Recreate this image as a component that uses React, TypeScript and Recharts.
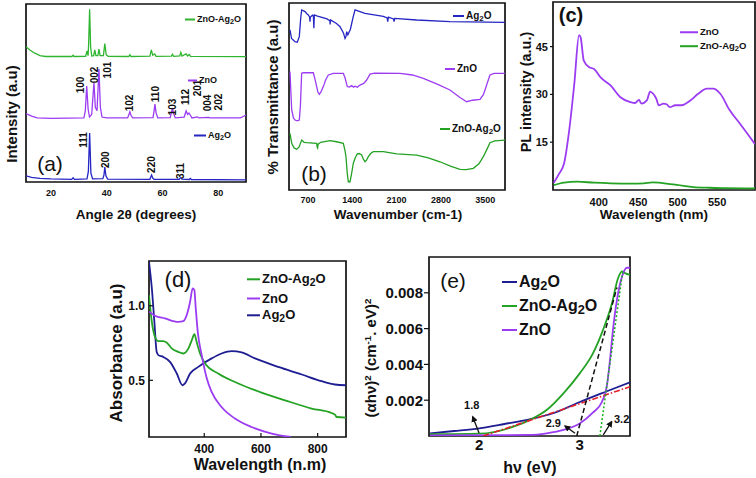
import React from "react";
import {
  LineChart,
  Line,
  XAxis,
  YAxis,
  ReferenceArea,
  ReferenceDot,
  ReferenceLine,
} from "recharts";

const FONT = "'Liberation Sans', Arial, Helvetica, sans-serif";
const INK = "#111";

// ---------- (a) XRD ----------
const xrdDomain = [11, 90];
const xrdTicks = [20, 40, 60, 80];
const xrdAg2O = [
  [11, 3.4], [13, 2.6], [16, 2.0], [20, 1.7], [27.4, 1.5], [27.9, 2.4], [28.4, 1.5],
  [32.9, 1.7], [33.4, 6], [33.85, 27.5], [34.3, 5], [34.9, 1.8], [38.6, 1.9], [39.0, 4],
  [39.3, 8.4], [39.7, 3.5], [40.3, 1.6], [55.5, 1.5], [55.8, 2.8], [56.1, 3.9], [56.5, 2.2],
  [57, 1.5], [66, 1.5], [66.3, 2.1], [66.6, 2.4], [67, 1.6], [69.6, 1.4], [70, 2.0],
  [70.4, 1.4], [90, 1.2],
];
const xrdZnO = [
  [11, 38.5], [13, 37], [15, 36], [20, 35.8], [31.8, 36], [32.3, 40], [32.8, 53.9], [33.3, 41],
  [33.8, 36.5], [34.6, 38], [35.4, 55.8], [35.9, 42], [36.5, 40], [37.2, 63.5], [37.7, 42],
  [38.3, 36.5], [40, 36], [47.5, 36], [48, 38], [48.3, 39.5], [48.7, 37.5], [49.3, 36],
  [56.6, 36.2], [57, 40], [57.3, 43.8], [57.7, 39], [58.3, 36], [62.8, 36.2], [63.2, 39],
  [63.6, 41.4], [64, 38.5], [64.6, 36], [67.8, 36.5], [68.2, 38.5], [68.5, 39.9], [69, 38],
  [69.5, 38.8], [70, 37.5], [70.6, 36], [72.6, 36.6], [73, 36], [76.5, 36.3], [77, 36],
  [88, 36], [89, 36.8], [90, 37.6],
];
const xrdMix = [
  [11, 76], [12.5, 74], [14, 72.5], [16, 71], [18, 70.5], [27.5, 70.5], [27.9, 71.2],
  [28.3, 70.5], [32.4, 70.6], [32.9, 73.6], [33.3, 71], [33.5, 78], [33.85, 97], [34.2, 76],
  [34.6, 70.8], [35.3, 71], [35.7, 74.2], [36.1, 71], [36.8, 71], [37.2, 74.7], [37.6, 71],
  [38.8, 71], [39.3, 77.7], [39.8, 71.5], [40.5, 70.6], [47.9, 70.5], [48.3, 71.5],
  [48.7, 70.5], [55.5, 70.7], [56, 74.2], [56.5, 71.2], [57.2, 72], [57.7, 70.6], [63.2, 70.7],
  [63.6, 71.7], [64, 70.6], [66.2, 70.8], [66.6, 72.8], [67, 70.8], [68.5, 72], [69, 70.8],
  [69.6, 71.6], [70.1, 70.6], [90, 70.4],
];
const xrdPeakNames = ["100", "002", "101", "102", "110", "103", "112", "201", "004", "202", "111", "200", "220", "311"];
const xrdPeakAngles = [30.5, 35.5, 40.2, 48.2, 57.6, 63.7, 68.4, 72.7, 76.3, 80, 31.6, 39.5, 56.1, 66.6];
const xrdPeakHeights = [54.5, 60.1, 62.9, 44.4, 49.4, 42.1, 47.8, 52.8, 44.4, 44.9, 23.6, 12.5, 9.8, 6.2];

// ---------- (b) FTIR ----------
const ftirDomain = [400, 3812];
const ftirTicks = [700, 1400, 2100, 2800, 3500];
const ftirAg2O = [
  [416, 85.6], [440, 81], [495, 79.3], [531, 79], [563, 82], [585, 92], [600, 96.3], [653, 95.4],
  [690, 94], [705, 93.6], [725, 92.5], [732, 90], [738, 92.5], [770, 93.5], [785, 93], [793, 86.5],
  [800, 93.6], [850, 93], [1000, 91.5], [1045, 90.5], [1050, 88.5], [1055, 91], [1150, 89],
  [1206, 87.3], [1260, 84], [1285, 81], [1300, 82], [1311, 84.7], [1330, 83], [1370, 86],
  [1410, 92], [1443, 96.3], [1522, 95.4], [1600, 94.5], [1890, 92.8], [1950, 92], [1960, 90],
  [1970, 92.5], [2050, 91.5], [2060, 90], [2070, 91.8], [2417, 90.9], [2943, 90], [3812, 89.6],
];
const ftirZnO = [
  [416, 63.3], [430, 52], [443, 42.8], [470, 38.5], [495, 37.4], [530, 37], [563, 37.4], [580, 45],
  [600, 62.4], [626, 62.7], [700, 62.8], [784, 62.7], [805, 60], [826, 57], [855, 52.5],
  [879, 51.2], [905, 52.5], [942, 55.3], [980, 59], [1021, 61.5], [1100, 62.4], [1258, 62.4],
  [1285, 60], [1321, 55.3], [1355, 55], [1390, 55.8], [1420, 55], [1443, 55.5], [1480, 55],
  [1522, 56.1], [1580, 57], [1627, 58.8], [1680, 62], [1750, 62.5], [2153, 62.4], [2350, 61.5],
  [2522, 59.7], [2750, 56.5], [2943, 53.5], [3100, 49.5], [3207, 47.2], [3300, 48], [3417, 48.5],
  [3470, 51], [3496, 53.5], [3540, 58], [3575, 61.5], [3640, 62.4], [3812, 62.4],
];
const ftirMix = [
  [416, 30.3], [443, 25], [480, 22.5], [522, 21.8], [560, 23], [600, 26.7], [640, 25.5],
  [680, 25.3], [837, 25], [845, 23], [852, 22.5], [860, 24.5], [900, 25.5], [1048, 26.4],
  [1150, 25.8], [1258, 25], [1285, 21], [1300, 17.8], [1320, 9], [1337, 4.4], [1364, 4.4],
  [1390, 9], [1416, 14.3], [1450, 17.5], [1479, 19.3], [1510, 19.5], [1548, 18.7], [1575, 16.5],
  [1601, 15.1], [1625, 16], [1653, 17.8], [1690, 19.5], [1732, 20.5], [1890, 20.5], [2101, 19.3],
  [2417, 18.7], [2600, 17.2], [2785, 15.1], [2950, 12.8], [3101, 11], [3200, 10.9], [3312, 11.6],
  [3400, 14], [3470, 17.8], [3530, 22], [3575, 25.3], [3650, 26.3], [3812, 26.7],
];

// ---------- (c) PL ----------
const plXDomain = [342, 598];
const plYDomain = [0, 59];
const plXTicks = [400, 450, 500, 550];
const plYTicks = [15, 30, 45];
const plZnO = [
  [343, 2.3], [350, 5.2], [356, 8.3], [362, 17.7], [369, 33.3], [375, 48.6], [377, 47.9],
  [381, 40.6], [388, 38.5], [394, 38], [402, 35.4], [415, 32.8], [427, 29.2], [440, 27.6],
  [446, 27.3], [451, 28.3], [454, 27.1], [461, 28.1], [465, 30.9], [469, 30.2], [473, 28.6],
  [476, 26.6], [482, 27.1], [486, 26.9], [490, 26], [497, 26.6], [505, 26.6], [516, 28.1],
  [526, 30.2], [537, 31.8], [545, 31.8], [554, 30.2], [566, 25], [579, 20.8], [598, 14.4],
];
const plMix = [
  [343, 1.5], [356, 2.3], [373, 2.6], [394, 2.3], [415, 2.1], [440, 2], [457, 2.1], [468, 2.4],
  [476, 2.3], [488, 1.9], [499, 1.6], [520, 0.9], [540, 0.7], [562, 0.6], [598, 0.5],
];

// ---------- (d) UV-vis ----------
const uvXDomain = [205, 900];
const uvYDomain = [0.12, 1.3];
const uvXTicks = [400, 600, 800];
const uvYTicks = [0.5, 1.0];
const uvZnO = [
  [205, 0.96], [226, 0.933], [261, 0.915], [308, 0.892], [326, 0.897], [338, 0.937], [350, 1.027],
  [359, 1.117], [365, 1.105], [370, 0.982], [377, 0.825], [391, 0.669], [409, 0.512],
  [426, 0.422], [461, 0.321], [508, 0.244], [567, 0.187], [638, 0.143], [705, 0.12],
];
const uvMix = [
  [205, 1.072], [215, 0.892], [226, 0.792], [238, 0.763], [255, 0.763], [267, 0.754], [285, 0.714],
  [308, 0.691], [326, 0.68], [344, 0.714], [356, 0.769], [365, 0.81], [373, 0.758], [385, 0.68],
  [403, 0.613], [449, 0.546], [520, 0.479], [602, 0.418], [685, 0.366], [779, 0.311],
  [849, 0.281], [861, 0.27], [867, 0.254], [900, 0.25],
];
const uvAg2O = [
  [205, 1.295], [215, 1.117], [224, 0.892], [232, 0.691], [238, 0.669], [255, 0.657], [279, 0.624],
  [303, 0.546], [323, 0.467], [332, 0.479], [350, 0.546], [379, 0.59], [426, 0.647], [461, 0.68],
  [497, 0.696], [532, 0.687], [579, 0.647], [661, 0.59], [744, 0.539], [814, 0.494],
  [861, 0.472], [900, 0.467],
];

// ---------- (e) Tauc ----------
const taucXDomain = [1.5, 3.5];
const taucYDomain = [0, 0.01];
const taucXTicks = [2, 3];
const taucYTicks = [0.002, 0.004, 0.006, 0.008];
const taucAg2O = [
  [1.51, 0.00015], [1.75, 0.00028], [2.0, 0.00043], [2.25, 0.00067], [2.5, 0.00093],
  [2.75, 0.0013], [3.0, 0.0019], [3.27, 0.0025], [3.5, 0.003],
];
const taucMix = [
  [1.51, 0.0001], [2.0, 0.00013], [2.34, 0.00052], [2.5, 0.00089], [2.67, 0.00145], [2.84, 0.0024],
  [3.0, 0.0035], [3.13, 0.0046], [3.23, 0.0059], [3.32, 0.0074], [3.38, 0.0088], [3.42, 0.0092],
  [3.45, 0.0091], [3.5, 0.009],
];
const taucZnO = [
  [1.51, 0.00003], [2.5, 0.00006], [2.67, 0.00015], [2.84, 0.00034], [3.0, 0.0007], [3.13, 0.0013],
  [3.22, 0.0019], [3.27, 0.0028], [3.3, 0.0042], [3.33, 0.0059], [3.37, 0.0076], [3.42, 0.0089],
  [3.47, 0.0094], [3.5, 0.0094],
];
const fitAg2O = [[2.04, 0], [3.5, 0.00275]];
const fitMix = [[2.97, 0], [3.37, 0.0083]];
const fitZnO = [[3.2, 0], [3.43, 0.0093]];
const gapNames = ["1.8", "2.9", "3.2"];
const gapLabelAt = [[1.925, 0.00173], [2.737, 0.00071], [3.417, 0.00095]];
const gapArrowFrom = [[1.998, 0.00017], [2.953, 0.00015], [3.234, 0.00006]];
const gapArrowTo = [[1.935, 0.00108], [2.853, 0.00056], [3.318, 0.0008]];

// ---------- layout ----------
const BOX_A = { l: 26, t: 4, r: 246, b: 182 };
const BOX_B = { l: 289, t: 3, r: 505, b: 190 };
const BOX_C = { l: 553, t: 2, r: 755, b: 190 };
const BOX_D = { l: 149, t: 261, r: 346, b: 437 };
const BOX_E = { l: 429, t: 257, r: 630, b: 436 };
const YW = 50;
const XH = 30;
const PAD = 2;

const BLUE = "#2626c4";
const NAVY = "#1e1e92";
const PURPLE = "#9c3cf2";
const GREEN = "#24a224";

type Box = { l: number; t: number; r: number; b: number };

const pts = (a: number[][]) => a.map(([x, y]) => ({ x, y }));

function frame(box: Box) {
  return {
    style: { position: "absolute" as const, left: box.l - YW, top: box.t - PAD },
    width: box.r - box.l + YW + PAD,
    height: box.b - box.t + PAD + XH,
    margin: { top: PAD, right: PAD, bottom: 0, left: 0 },
  };
}

const tick = (size: number) => ({ fontSize: size, fontWeight: 700, fill: INK, fontFamily: FONT });

function border(xd: number[], yd: number[]) {
  return (
    <ReferenceArea
      x1={xd[0]}
      x2={xd[1]}
      y1={yd[0]}
      y2={yd[1]}
      fill="none"
      fillOpacity={0}
      stroke={INK}
      strokeWidth={1.7}
      ifOverflow="visible"
    />
  );
}

function series(data: number[][], color: string, width: number, key: string, smooth = false, dash?: string) {
  return (
    <Line
      key={key}
      data={pts(data)}
      dataKey="y"
      type={smooth ? "monotone" : "linear"}
      stroke={color}
      strokeWidth={width}
      strokeDasharray={dash}
      dot={false}
      activeDot={false}
      isAnimationActive={false}
    />
  );
}

function Txt({ x, y, size, rot, bold = true, children }: any) {
  return (
    <div
      style={{
        position: "absolute",
        left: x,
        top: y,
        transform: `translate(-50%, -50%)${rot ? ` rotate(${rot}deg)` : ""}`,
        fontSize: size,
        fontWeight: bold ? 700 : 400,
        whiteSpace: "nowrap",
        lineHeight: 1,
        fontFamily: FONT,
        color: INK,
      }}
    >
      {children}
    </div>
  );
}

function Key({ x, y, w, color, size, lw = 2, gap = 2, children }: any) {
  return (
    <div
      style={{
        position: "absolute",
        left: x,
        top: y,
        transform: "translateY(-50%)",
        display: "flex",
        alignItems: "center",
        fontSize: size,
        fontWeight: 700,
        fontFamily: FONT,
        whiteSpace: "nowrap",
        lineHeight: 1,
        color: INK,
      }}
    >
      <span style={{ display: "inline-block", width: w, height: lw, background: color, marginRight: gap }} />
      <span>{children}</span>
    </div>
  );
}

const Sub = ({ children }: any) => (
  <span style={{ fontSize: "0.8em", position: "relative", top: "0.25em" }}>{children}</span>
);
const Sup = ({ children }: any) => (
  <span style={{ fontSize: "0.65em", position: "relative", top: "-0.55em" }}>{children}</span>
);
const AG2O = (
  <>
    Ag<Sub>2</Sub>O
  </>
);
const MIX = (
  <>
    ZnO-Ag<Sub>2</Sub>O
  </>
);

function PanelA() {
  const f = frame(BOX_A);
  return (
    <div style={f.style}>
      <LineChart width={f.width} height={f.height} margin={f.margin}>
        <XAxis type="number" dataKey="x" domain={xrdDomain} ticks={xrdTicks} interval={0} allowDataOverflow
          height={XH} axisLine={false} tickLine={false} tickSize={0} tickMargin={8} tick={tick(9)} />
        <YAxis type="number" domain={[0, 100]} width={YW} axisLine={false} tickLine={false} tick={false} allowDataOverflow />
        {series(xrdAg2O, BLUE, 1.3, "ag")}
        {series(xrdZnO, PURPLE, 1.3, "zn")}
        {series(xrdMix, "#2fb52f", 1.3, "mix")}
        {xrdPeakNames.map((n, i) => (
          <ReferenceDot
            key={n + i}
            x={xrdPeakAngles[i]}
            y={xrdPeakHeights[i]}
            r={1}
            fill="none"
            stroke="none"
            ifOverflow="visible"
            label={{ value: n, angle: -90, position: "center", fontSize: 10, fontWeight: 700, fill: INK, fontFamily: FONT }}
          />
        ))}
        {border(xrdDomain, [0, 100])}
      </LineChart>
    </div>
  );
}

function PanelB() {
  const f = frame(BOX_B);
  return (
    <div style={f.style}>
      <LineChart width={f.width} height={f.height} margin={f.margin}>
        <XAxis type="number" dataKey="x" domain={ftirDomain} ticks={ftirTicks} interval={0} allowDataOverflow
          height={XH} axisLine={false} tickLine={false} tickSize={0} tickMargin={7} tick={tick(9)} />
        <YAxis type="number" domain={[0, 100]} width={YW} axisLine={false} tickLine={false} tick={false} allowDataOverflow />
        {series(ftirAg2O, BLUE, 1.3, "ag")}
        {series(ftirZnO, PURPLE, 1.3, "zn")}
        {series(ftirMix, GREEN, 1.3, "mix")}
        {border(ftirDomain, [0, 100])}
      </LineChart>
    </div>
  );
}

function PanelC() {
  const f = frame(BOX_C);
  return (
    <div style={f.style}>
      <LineChart width={f.width} height={f.height} margin={f.margin}>
        <XAxis type="number" dataKey="x" domain={plXDomain} ticks={plXTicks} interval={0} allowDataOverflow
          height={XH} axisLine={false} tickLine={false} tickSize={0} tickMargin={8} tick={tick(11)} />
        <YAxis type="number" domain={plYDomain} ticks={plYTicks} interval={0} width={YW} axisLine={false}
          tickLine={{ stroke: INK, strokeWidth: 1.2 }} tickSize={3} tickMargin={2} tick={tick(11)} allowDataOverflow />
        {series(plMix, GREEN, 1.8, "mix", true)}
        {series(plZnO, PURPLE, 1.8, "zn", true)}
        {border(plXDomain, plYDomain)}
      </LineChart>
    </div>
  );
}

function PanelD() {
  const f = frame(BOX_D);
  return (
    <div style={f.style}>
      <LineChart width={f.width} height={f.height} margin={f.margin}>
        <XAxis type="number" dataKey="x" domain={uvXDomain} ticks={uvXTicks} interval={0} allowDataOverflow
          height={XH} axisLine={false} tickLine={{ stroke: INK, strokeWidth: 1.2 }} tickSize={-4} tickMargin={11} tick={tick(12)} />
        <YAxis type="number" domain={uvYDomain} ticks={uvYTicks} interval={0} width={YW} axisLine={false}
          tickLine={{ stroke: INK, strokeWidth: 1.2 }} tickSize={-4} tickMargin={8} tick={tick(12)}
          tickFormatter={(v: number) => v.toFixed(1)} allowDataOverflow />
        {series(uvAg2O, NAVY, 1.8, "ag", true)}
        {series(uvMix, GREEN, 1.8, "mix", true)}
        {series(uvZnO, PURPLE, 1.8, "zn", true)}
        {border(uvXDomain, uvYDomain)}
      </LineChart>
    </div>
  );
}

function PanelE() {
  const f = frame(BOX_E);
  return (
    <div style={f.style}>
      <LineChart width={f.width} height={f.height} margin={f.margin}>
        <XAxis type="number" dataKey="x" domain={taucXDomain} ticks={taucXTicks} interval={0} allowDataOverflow
          height={XH} axisLine={false} tickLine={false} tickSize={0} tickMargin={3} tick={tick(15)} />
        <YAxis type="number" domain={taucYDomain} ticks={taucYTicks} interval={0} width={YW} axisLine={false}
          tickLine={{ stroke: INK, strokeWidth: 1.2 }} tickSize={5} tickMargin={1} tick={tick(15)}
          tickFormatter={(v: number) => v.toFixed(3)} allowDataOverflow />
        {series(taucAg2O, NAVY, 1.8, "ag", true)}
        {series(taucMix, GREEN, 1.8, "mix", true)}
        {series(taucZnO, PURPLE, 1.8, "zn", true)}
        {series(fitAg2O, "#e3202a", 1.6, "fa", false, "6 2 1.5 2")}
        {series(fitMix, "#111", 1.5, "fm", false, "5 3")}
        {series(fitZnO, "#16b016", 1.5, "fz", false, "2 2")}
        {gapNames.map((n, i) => (
          <ReferenceLine
            key={"arr" + n}
            segment={[
              { x: gapArrowFrom[i][0], y: gapArrowFrom[i][1] },
              { x: gapArrowTo[i][0], y: gapArrowTo[i][1] },
            ]}
            stroke={INK}
            strokeWidth={1.3}
            markerEnd="url(#arrowHead)"
            ifOverflow="visible"
          />
        ))}
        {gapNames.map((n, i) => (
          <ReferenceDot
            key={"lab" + n}
            x={gapLabelAt[i][0]}
            y={gapLabelAt[i][1]}
            r={1}
            fill="none"
            stroke="none"
            ifOverflow="visible"
            label={{ value: n, position: "center", fontSize: 11, fontWeight: 700, fill: INK, fontFamily: FONT }}
          />
        ))}
        {border(taucXDomain, taucYDomain)}
      </LineChart>
    </div>
  );
}

export default function App() {
  return (
    <div
      style={{
        position: "absolute",
        left: 0,
        top: 0,
        width: 756,
        height: 478,
        overflow: "hidden",
        background: "#fff",
        fontFamily: FONT,
        color: INK,
      }}
    >
      <svg width={0} height={0} style={{ position: "absolute" }}>
        <defs>
          <marker id="arrowHead" viewBox="0 0 10 10" refX="8" refY="5" markerWidth="5" markerHeight="5" orient="auto">
            <path d="M0,0 L10,5 L0,10 z" fill={INK} />
          </marker>
        </defs>
      </svg>

      <PanelA />
      <PanelB />
      <PanelC />
      <PanelD />
      <PanelE />

      {/* (a) */}
      <Txt x={11} y={114} size={15} rot={-90}>Intensity (a.u)</Txt>
      <Txt x={136} y={215} size={13.5}>Angle 2θ (degrees)</Txt>
      <Txt x={50} y={163} size={21} bold={false}>(a)</Txt>
      <Key x={185} y={19} w={10} color="#2fb52f" size={9}>{MIX}</Key>
      <Key x={188} y={80} w={9} color={PURPLE} size={9}>ZnO</Key>
      <Key x={194} y={135} w={12} color={BLUE} size={9}>{AG2O}</Key>

      {/* (b) */}
      <Txt x={272} y={97} size={15} rot={-90}>% Transmittance (a.u)</Txt>
      <Txt x={398} y={215} size={13.5}>Wavenumber (cm-1)</Txt>
      <Txt x={314} y={173} size={21} bold={false}>(b)</Txt>
      <Key x={453} y={16} w={11} color={BLUE} size={10}>{AG2O}</Key>
      <Key x={445} y={69} w={10} color={PURPLE} size={10}>ZnO</Key>
      <Key x={440} y={129} w={10} color={GREEN} size={10}>{MIX}</Key>

      {/* (c) */}
      <Txt x={526} y={92} size={14.5} rot={-90}>PL intensity (a.u.)</Txt>
      <Txt x={654} y={215} size={13.5}>Wavelength (nm)</Txt>
      <Txt x={571} y={15} size={20}>(c)</Txt>
      <Key x={680} y={32} w={18} color={PURPLE} size={9.5}>ZnO</Key>
      <Key x={680} y={46} w={18} color={GREEN} size={9.5}>{MIX}</Key>

      {/* (d) */}
      <Txt x={116} y={353} size={17} rot={-90}>Absorbance (a.u)</Txt>
      <Txt x={260} y={465} size={16}>Wavelength (n.m)</Txt>
      <Txt x={178} y={280} size={22} bold={false}>(d)</Txt>
      <Key x={247} y={279} w={13} color={GREEN} size={13}>{MIX}</Key>
      <Key x={247} y={298} w={13} color={PURPLE} size={13}>ZnO</Key>
      <Key x={247} y={315} w={13} color={NAVY} size={13}>{AG2O}</Key>

      {/* (e) */}
      <Txt x={370} y={358} size={15} rot={-90}>
        (αhν)<Sup>2</Sup> (cm<Sup>-1</Sup>. eV)<Sup>2</Sup>
      </Txt>
      <Txt x={530} y={468} size={16}>hν (eV)</Txt>
      <Txt x={453} y={280} size={21} bold={false}>(e)</Txt>
      <Key x={502} y={282} w={15} color={NAVY} size={16}>{AG2O}</Key>
      <Key x={502} y={306} w={15} color={GREEN} size={16}>{MIX}</Key>
      <Key x={502} y={330} w={15} color={PURPLE} size={16}>ZnO</Key>
    </div>
  );
}
